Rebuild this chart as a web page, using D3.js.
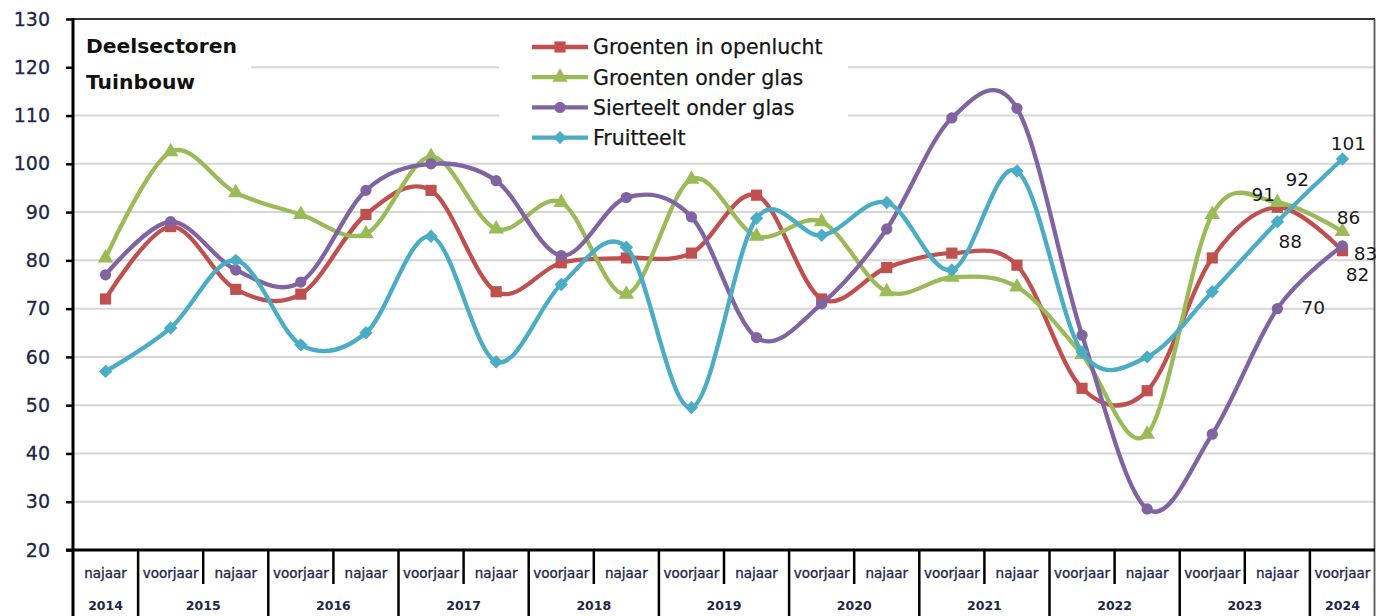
<!DOCTYPE html>
<html>
<head>
<meta charset="utf-8">
<script src="https://cdn.jsdelivr.net/npm/d3@7"></script>
<style>
  html, body { margin: 0; padding: 0; background: #fff; }
  svg { display: block; }
  text { font-family: "DejaVu Sans", "Noto Sans", sans-serif; }
</style>
</head>
<body>
<svg id="chart" width="1376" height="616"></svg>
<script>
// Half-year periods on the category axis
const seasonLabels = [
  "najaar",
  "voorjaar", "najaar", "voorjaar", "najaar", "voorjaar", "najaar",
  "voorjaar", "najaar", "voorjaar", "najaar", "voorjaar", "najaar",
  "voorjaar", "najaar", "voorjaar", "najaar", "voorjaar", "najaar",
  "voorjaar"
];
const yearLabels = [
  "2014",
  "2015", "2015", "2016", "2016", "2017", "2017",
  "2018", "2018", "2019", "2019", "2020", "2020",
  "2021", "2021", "2022", "2022", "2023", "2023",
  "2024"
];

// Index values per deelsector
const groentenOpenlucht = [72, 87, 74, 73, 89.5, 94.5, 73.5, 79.5, 80.5, 81.5, 93.5, 72, 78.5, 81.5, 79, 53.5, 53, 80.5, 91, 82];
const groentenOnderGlas = [80.5, 102.5, 94, 89.5, 85.5, 101.5, 86.5, 92, 73, 96.8, 85, 88, 73.5, 76.5, 74.5, 60.5, 44, 89.5, 92, 86];
const sierteeltOnderGlas = [77, 88, 78, 75.5, 94.5, 100, 96.5, 81, 93, 89, 64, 71, 86.5, 109.5, 111.5, 64.5, 28.5, 44, 70, 83];
const fruitteelt = [57, 66, 80, 62.5, 65, 85, 59, 75, 82.7, 49.5, 88.7, 85.2, 92, 78, 98.5, 61, 60, 73.5, 88, 101];

const seriesNames = ["Groenten in openlucht", "Groenten onder glas", "Sierteelt onder glas", "Fruitteelt"];
const seriesValues = [groentenOpenlucht, groentenOnderGlas, sierteeltOnderGlas, fruitteelt];

const yTicks = [20, 30, 40, 50, 60, 70, 80, 90, 100, 110, 120, 130];

// ---- styling / layout ----
const colors = ["#C0504D", "#9BBB59", "#8064A2", "#4BACC6"];
const markerTypes = ["square", "triangle", "circle", "diamond"];
const axisText = "#1e2748";

const plotLeft = 73, plotRight = 1375, plotTop = 19, plotBottom = 550, svgH = 616;

const svg = d3.select("#chart");

const x = d3.scaleBand()
  .domain(d3.range(seasonLabels.length))
  .range([plotLeft, plotRight])
  .padding(0);
const cx = i => x(i) + x.bandwidth() / 2;

const y = d3.scaleLinear().domain([20, 130]).range([plotBottom, plotTop]);

// horizontal gridlines
svg.append("g")
  .selectAll("line")
  .data(yTicks.filter(t => t > 20 && t < 130))
  .join("line")
  .attr("x1", plotLeft).attr("x2", plotRight)
  .attr("y1", d => y(d)).attr("y2", d => y(d))
  .attr("stroke", "#d6d6d6")
  .attr("stroke-width", 2);

// white panels behind title and legend
svg.append("rect").attr("x", plotLeft + 2).attr("y", plotTop + 4).attr("width", 176).attr("height", 84).attr("fill", "#fff");
svg.append("rect").attr("x", 499).attr("y", plotTop + 8).attr("width", 349).attr("height", 124).attr("fill", "#fff");

// title
const title = svg.append("g").attr("font-weight", "bold").attr("font-size", 20.3).attr("fill", "#111");
title.append("text").attr("x", 86).attr("y", 46).attr("dy", "0.36em").text("Deelsectoren");
title.append("text").attr("x", 86).attr("y", 82).attr("dy", "0.36em").text("Tuinbouw");

// frame: top and right borders
svg.append("line").attr("x1", plotLeft).attr("x2", plotRight).attr("y1", plotTop).attr("y2", plotTop)
  .attr("stroke", "#333").attr("stroke-width", 2.2);
svg.append("line").attr("x1", plotRight - 0.5).attr("x2", plotRight - 0.5).attr("y1", plotTop).attr("y2", svgH)
  .attr("stroke", "#555").attr("stroke-width", 1.8);

// y axis
const yAxis = svg.append("g")
  .attr("transform", `translate(${plotLeft},0)`)
  .call(d3.axisLeft(y).tickValues(yTicks).tickSize(7).tickPadding(16).tickFormat(d3.format("d")));
yAxis.select(".domain").remove();
yAxis.selectAll(".tick line").attr("stroke", "#000").attr("stroke-width", 2.5);
yAxis.selectAll(".tick text")
  .attr("font-size", 19)
  .attr("font-family", "DejaVu Sans, sans-serif")
  .attr("fill", axisText)
  .attr("stroke", axisText)
  .attr("stroke-width", 0.3);
svg.append("line").attr("x1", plotLeft).attr("x2", plotLeft).attr("y1", plotTop - 1).attr("y2", svgH)
  .attr("stroke", "#000").attr("stroke-width", 3);
svg.append("line").attr("x1", plotLeft - 7).attr("x2", plotRight).attr("y1", plotBottom).attr("y2", plotBottom)
  .attr("stroke", "#000").attr("stroke-width", 3);

// category axis: season row and year row with separators
const catG = svg.append("g");
catG.selectAll("text.season")
  .data(seasonLabels)
  .join("text")
  .attr("class", "season")
  .attr("x", (d, i) => cx(i))
  .attr("y", 573)
  .attr("dy", "0.36em")
  .attr("text-anchor", "middle")
  .attr("font-size", 13.5)
  .attr("fill", axisText)
  .attr("stroke", axisText)
  .attr("stroke-width", 0.35)
  .text(d => d);

// group consecutive periods of the same year
const yearGroups = [];
yearLabels.forEach((yr, i) => {
  const last = yearGroups[yearGroups.length - 1];
  if (last && last.year === yr) last.end = i;
  else yearGroups.push({ year: yr, start: i, end: i });
});

catG.selectAll("text.year")
  .data(yearGroups)
  .join("text")
  .attr("class", "year")
  .attr("x", d => (x(d.start) + x(d.end) + x.bandwidth()) / 2)
  .attr("y", 605)
  .attr("dy", "0.36em")
  .attr("text-anchor", "middle")
  .attr("font-size", 12.5)
  .attr("font-weight", "bold")
  .attr("fill", axisText)
  .text(d => d.year);

// separators: full height between years, short within a year
const boundaries = d3.range(1, seasonLabels.length).map(i => ({
  pos: x(i),
  full: yearLabels[i] !== yearLabels[i - 1]
}));
catG.selectAll("line.sep")
  .data(boundaries)
  .join("line")
  .attr("class", "sep")
  .attr("x1", d => d.pos).attr("x2", d => d.pos)
  .attr("y1", plotBottom)
  .attr("y2", d => d.full ? svgH : 584)
  .attr("stroke", "#000")
  .attr("stroke-width", 2.5);

// marker drawing helper
function drawMarker(g, type, color) {
  if (type === "square") {
    g.append("path").attr("d", d3.symbol(d3.symbolSquare, 125)()).attr("fill", color);
  } else if (type === "triangle") {
    g.append("path").attr("d", d3.symbol(d3.symbolTriangle, 105)()).attr("fill", color);
  } else if (type === "circle") {
    g.append("path").attr("d", d3.symbol(d3.symbolCircle, 100)()).attr("fill", color);
  } else {
    g.append("path").attr("d", d3.symbol(d3.symbolSquare, 90)()).attr("transform", "rotate(45)").attr("fill", color);
  }
}

// smoothed series lines
const line = d3.line()
  .x((d, i) => cx(i))
  .y(d => y(d))
  .curve(d3.curveCatmullRom.alpha(0));

seriesValues.forEach((vals, s) => {
  const g = svg.append("g");
  g.append("path")
    .datum(vals)
    .attr("d", line)
    .attr("fill", "none")
    .attr("stroke", colors[s])
    .attr("stroke-width", 4.3)
    .attr("stroke-linejoin", "round")
    .attr("stroke-linecap", "round");
  g.selectAll("g.marker")
    .data(vals)
    .join("g")
    .attr("class", "marker")
    .attr("transform", (d, i) => `translate(${cx(i)},${y(d)})`)
    .each(function () { drawMarker(d3.select(this), markerTypes[s], colors[s]); });
});

// value labels on the last two periods
const nPeriods = seasonLabels.length;
const valueLabels = [
  { s: 3, i: nPeriods - 1, dx: 6, dy: -16 },
  { s: 1, i: nPeriods - 2, dx: 20, dy: -23 },
  { s: 0, i: nPeriods - 2, dx: -14, dy: -13 },
  { s: 1, i: nPeriods - 1, dx: 6, dy: -14 },
  { s: 3, i: nPeriods - 2, dx: 13, dy: 20 },
  { s: 2, i: nPeriods - 1, dx: 23, dy: 7 },
  { s: 0, i: nPeriods - 1, dx: 15, dy: 24 },
  { s: 2, i: nPeriods - 2, dx: 36, dy: -1 }
];
svg.append("g")
  .selectAll("text")
  .data(valueLabels)
  .join("text")
  .attr("x", d => cx(d.i) + d.dx)
  .attr("y", d => y(seriesValues[d.s][d.i]) + d.dy)
  .attr("dy", "0.36em")
  .attr("text-anchor", "middle")
  .attr("font-size", 18.5)
  .attr("fill", "#1a1a1a")
  .text(d => Math.round(seriesValues[d.s][d.i]));

// legend
const legend = svg.append("g");
seriesNames.forEach((name, s) => {
  const ly = 47 + s * 30.2;
  const item = legend.append("g");
  item.append("line").attr("x1", 532).attr("x2", 588).attr("y1", ly).attr("y2", ly)
    .attr("stroke", colors[s]).attr("stroke-width", 4.3);
  const m = item.append("g").attr("transform", `translate(560,${ly})`);
  drawMarker(m, markerTypes[s], colors[s]);
  item.append("text").attr("x", 593).attr("y", ly).attr("dy", "0.36em")
    .attr("font-size", 20.5).attr("fill", "#161616")
    .attr("stroke", "#161616").attr("stroke-width", 0.25)
    .text(name);
});
</script>
</body>
</html>
